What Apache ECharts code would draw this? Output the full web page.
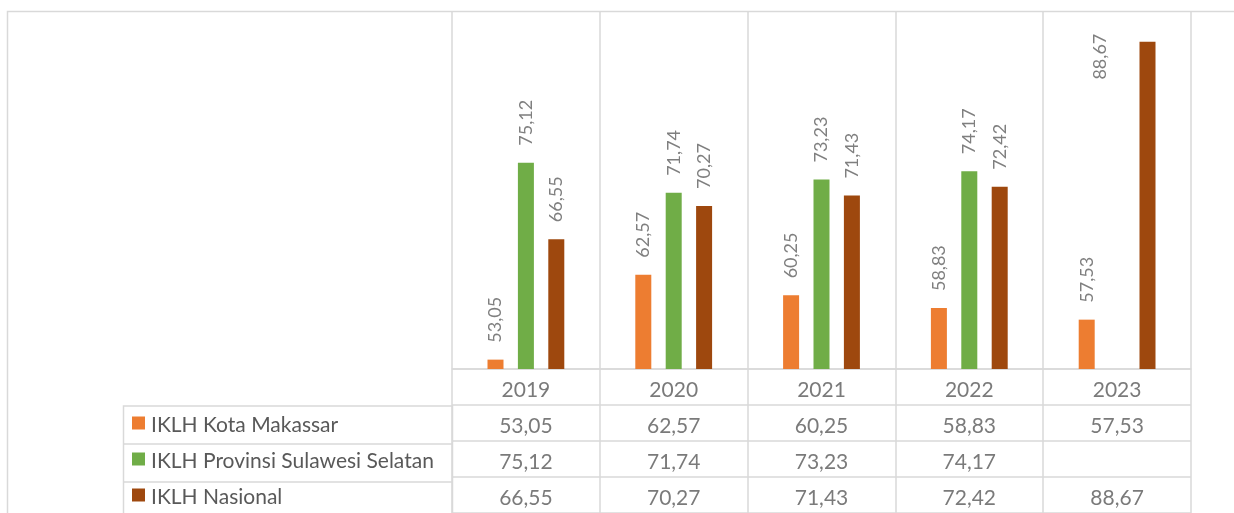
<!DOCTYPE html>
<html>
<head>
<meta charset="utf-8">
<style>
  html, body { margin: 0; padding: 0; background: #fff; }
  #chart { width: 1234px; height: 513px; }
</style>
<script src="https://cdn.jsdelivr.net/npm/echarts@6/dist/echarts.min.js"></script>
</head>
<body>
<div id="chart"></div>
<script>
const years = ["2019", "2020", "2021", "2022", "2023"];
const seriesNames = ["IKLH Kota Makassar", "IKLH Provinsi Sulawesi Selatan", "IKLH Nasional"];
const kotaMakassar = [53.05, 62.57, 60.25, 58.83, 57.53];
const provSulsel = [75.12, 71.74, 73.23, 74.17, null];
const nasional = [66.55, 70.27, 71.43, 72.42, 88.67];
const colors = ["#ED7D31", "#70AD47", "#9E480E"];

const FONT = "Lato, 'Open Sans', sans-serif";
const LINE = "#D9D9D9";

function fmt(v) {
  if (v === null || v === undefined) return "";
  return v.toFixed(2).replace(".", ",");
}

const allSeries = [kotaMakassar, provSulsel, nasional];

// table cells: row 0 = years, rows 1..3 = series values
const tableCells = [];
years.forEach((y, i) => {
  tableCells.push({ value: [i, 0], text: y });
  allSeries.forEach((arr, s) => {
    tableCells.push({ value: [i, s + 1], text: fmt(arr[i]) });
  });
});

// Excel pushes the tallest label off to the left of its bar
function barData(arr) {
  return arr.map((v) => {
    if (v !== null && v > 85) {
      return {
        value: v,
        label: { position: [-39, -8], align: "right", distance: 0 },
      };
    }
    return v;
  });
}

const chart = echarts.init(document.getElementById("chart"));

const rich = {};
seriesNames.forEach((n, i) => {
  rich["m" + i] = { width: 13, height: 13, backgroundColor: colors[i] };
});
rich.t = { color: "#595959", fontSize: 21, fontFamily: FONT, padding: [4, 0, 0, 6] };

chart.setOption({
  animation: false,
  textStyle: { fontFamily: FONT },
  graphic: [
    {
      type: "rect",
      shape: { x: 7.5, y: 11.5, width: 1400, height: 700 },
      style: { fill: null, stroke: LINE, lineWidth: 1.5 },
      silent: true,
    },
    {
      type: "rect",
      shape: { x: 123.5, y: 406, width: 329, height: 300 },
      style: { fill: null, stroke: LINE, lineWidth: 1.5 },
      silent: true,
    },
    {
      type: "line",
      shape: { x1: 123.5, y1: 444, x2: 452, y2: 444 },
      style: { stroke: LINE, lineWidth: 1.5 },
      silent: true,
    },
    {
      type: "line",
      shape: { x1: 123.5, y1: 482, x2: 452, y2: 482 },
      style: { stroke: LINE, lineWidth: 1.5 },
      silent: true,
    },
  ],
  grid: [
    { left: 452, right: 43, top: 12, bottom: 144 },
    { left: 452, right: 43, top: 369, height: 151 },
  ],
  xAxis: [
    {
      type: "category",
      gridIndex: 0,
      data: years,
      axisLine: { lineStyle: { color: LINE, width: 1.5 } },
      axisTick: { show: false },
      axisLabel: { show: false },
      splitLine: { show: true, lineStyle: { color: LINE, width: 1.5 } },
    },
    {
      type: "category",
      gridIndex: 1,
      data: years,
      axisLine: { show: false },
      axisTick: { show: false },
      axisLabel: { show: false },
      splitLine: { show: true, lineStyle: { color: LINE, width: 1.5 } },
    },
  ],
  yAxis: [
    {
      type: "value",
      gridIndex: 0,
      min: 52,
      max: 92,
      interval: 4,
      show: false,
      splitLine: { show: false },
    },
    {
      type: "category",
      gridIndex: 1,
      inverse: true,
      data: ["", ...seriesNames],
      axisLine: { show: false },
      axisTick: { show: false },
      splitLine: { show: true, lineStyle: { color: LINE, width: 1.5 } },
      axisLabel: {
        align: "left",
        margin: 320,
        formatter: (v, i) => (i === 0 ? "" : `{m${i - 1}|}{t|${v}}`),
        rich: rich,
      },
    },
  ],
  series: [
    ...allSeries.map((arr, s) => ({
      name: seriesNames[s],
      type: "bar",
      xAxisIndex: 0,
      yAxisIndex: 0,
      data: barData(arr),
      barWidth: 16,
      barGap: "90%",
      itemStyle: { color: colors[s] },
      label: {
        show: true,
        position: "top",
        rotate: 90,
        align: "left",
        verticalAlign: "middle",
        distance: 17,
        color: "#7F7F7F",
        fontSize: 18,
        fontFamily: FONT,
        formatter: (p) => fmt(p.value),
      },
    })),
    {
      type: "scatter",
      xAxisIndex: 1,
      yAxisIndex: 1,
      symbolSize: 0,
      data: tableCells,
      label: {
        show: true,
        position: "inside",
        offset: [0, 3],
        color: "#595959",
        fontSize: 21,
        fontFamily: FONT,
        formatter: (p) => p.data.text,
      },
    },
  ],
});
</script>
</body>
</html>
